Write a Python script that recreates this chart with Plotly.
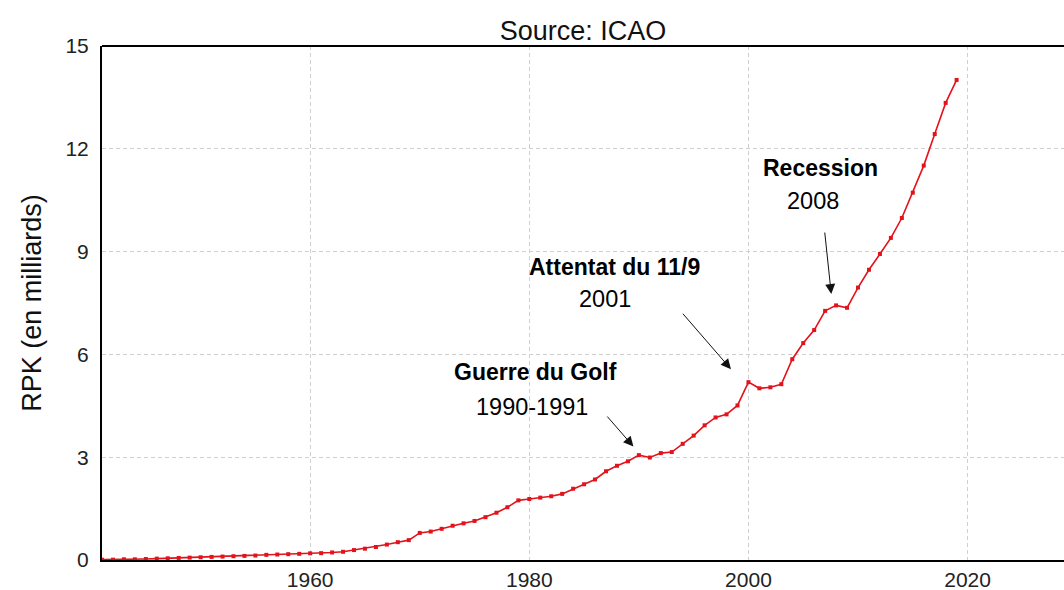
import plotly.graph_objects as go

years = list(range(1941, 2020))
rpk = [0.01, 0.01, 0.02, 0.02, 0.03, 0.04, 0.05, 0.06, 0.07, 0.08,
       0.09, 0.10, 0.11, 0.12, 0.13, 0.15, 0.16, 0.17, 0.18,
       0.195, 0.20, 0.22, 0.24, 0.29, 0.33, 0.38, 0.45, 0.52, 0.58,
       0.79, 0.83, 0.91, 1.00, 1.07, 1.14, 1.25, 1.38,
       1.54, 1.74, 1.78, 1.82, 1.86, 1.93, 2.08, 2.21, 2.35, 2.59,
       2.75, 2.88, 3.06, 2.99, 3.12, 3.15, 3.39, 3.63, 3.93, 4.16,
       4.25, 4.51, 5.19, 5.01, 5.04, 5.13, 5.86, 6.33, 6.71, 7.27,
       7.43, 7.36, 7.95, 8.47, 8.93, 9.40, 9.98, 10.72, 11.51, 12.43,
       13.34, 14.01]

x_ticks = [1960, 1980, 2000, 2020]
y_ticks = [0, 3, 6, 9, 12, 15]

events = ["Guerre du Golf", "Attentat du 11/9", "Recession"]
event_years = ["1990-1991", "2001", "2008"]

FONT = "Liberation Sans, Arial, sans-serif"

fig = go.Figure()
fig.add_trace(go.Scatter(
    x=years, y=rpk, mode="lines+markers",
    line=dict(color="#e3121b", width=1.6),
    marker=dict(symbol="square", size=4, color="#e3121b"),
    showlegend=False,
))

# text positions (data coords) and arrow (tail -> head)
label_pos = [(1980.6, 5.49), (1987.8, 8.55), (2006.55, 11.44)]
year_pos = [(1980.2, 4.46), (1986.9, 7.62), (2005.9, 10.48)]
arrows = [((1987.0, 4.23), (1989.5, 3.31)),
          ((1993.9, 7.23), (1998.4, 5.57)),
          ((2006.95, 9.60), (2007.56, 7.76))]

annotations = []
for ev, ey, lp, yp, (tail, head) in zip(events, event_years, label_pos, year_pos, arrows):
    annotations.append(dict(x=lp[0], y=lp[1], xref="x", yref="y", text="<b>%s</b>" % ev,
                            showarrow=False, font=dict(size=23, color="black", family=FONT)))
    annotations.append(dict(x=yp[0], y=yp[1], xref="x", yref="y", text=ey,
                            showarrow=False, font=dict(size=23.5, color="black", family=FONT)))
    annotations.append(dict(x=head[0], y=head[1], xref="x", yref="y",
                            ax=tail[0], ay=tail[1], axref="x", ayref="y",
                            text="", showarrow=True, arrowhead=2, arrowsize=2,
                            arrowwidth=1, arrowcolor="#111"))

fig.update_layout(
    width=1064, height=590,
    margin=dict(l=102, r=0, t=46, b=30),
    paper_bgcolor="white", plot_bgcolor="white",
    font=dict(family=FONT, size=21, color="#222"),
    title=dict(text="Source: ICAO", x=0.548, xanchor="center", y=0.949, yanchor="middle",
               font=dict(size=27, color="#111", family=FONT)),
    annotations=annotations,
    shapes=[dict(type="line", xref="paper", yref="paper", x0=0, x1=1, y0=1, y1=1,
                 line=dict(color="black", width=2))],
    xaxis=dict(range=[1941.0, 2028.8], tickvals=x_ticks, showgrid=True,
               gridcolor="#d0d0d0", griddash="4px,3px", gridwidth=1,
               showline=True, linecolor="black", linewidth=2, mirror=False,
               ticks="outside", ticklen=0, tickcolor="rgba(0,0,0,0)",
               zeroline=False, tickfont=dict(size=21), automargin=False),
    yaxis=dict(range=[0, 15], tickvals=y_ticks, showgrid=True,
               gridcolor="#d0d0d0", griddash="4px,3px", gridwidth=1,
               showline=True, linecolor="black", linewidth=2, mirror=False,
               ticks="outside", ticklen=7, tickcolor="rgba(0,0,0,0)",
               zeroline=False, tickfont=dict(size=21), automargin=False,
               title=dict(text="RPK (en milliards)", font=dict(size=27, color="#111"),
                          standoff=16)),
)

fig.write_html("out.html", config={"displayModeBar": False},
               post_script="document.body.style.margin='0';document.body.style.overflow='hidden';")
